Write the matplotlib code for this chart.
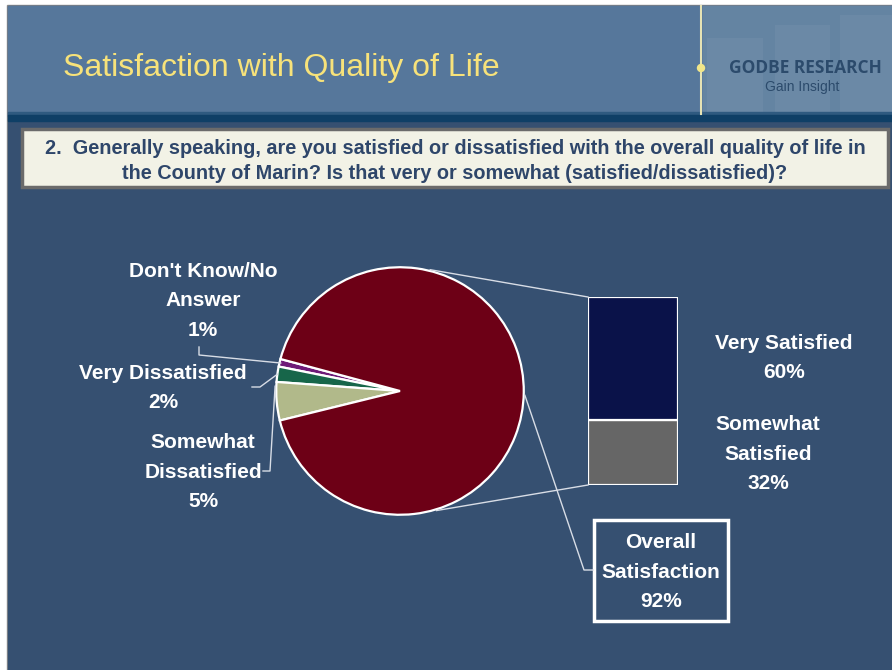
import matplotlib
matplotlib.use("Agg")
import matplotlib.pyplot as plt
from matplotlib.patches import Rectangle, Circle
import numpy as np

# ---- data ----
pie_labels = ["Don't Know/No\nAnswer", "Very Dissatisfied", "Somewhat\nDissatisfied", "Satisfied"]
pie_values = [1, 2, 5, 92]
pie_colors = ["#6e1a78", "#17664a", "#b1b98a", "#6d0016"]

bar_labels = ["Somewhat\nSatisfied", "Very Satisfied"]
bar_values = [32, 60]
bar_colors = ["#666666", "#0a1249"]
overall_label = "Overall\nSatisfaction"
overall_value = 92

title = "Satisfaction with Quality of Life"
question = ("2.  Generally speaking, are you satisfied or dissatisfied with the overall quality of life in\n"
            "the County of Marin? Is that very or somewhat (satisfied/dissatisfied)?")

W, H = 892, 670
fig = plt.figure(figsize=(W / 100, H / 100), dpi=100)
sans = "Liberation Sans"

# background axes
bg = fig.add_axes([0, 0, 1, 1], zorder=0)
bg.set_xlim(0, W); bg.set_ylim(H, 0); bg.axis("off")
bg.add_patch(Rectangle((0, 0), W, H, color="white"))
bg.add_patch(Rectangle((7, 5), W, H, color="#8a8a8a"))
bg.add_patch(Rectangle((8, 6), W, H, color="#365071"))
bg.add_patch(Rectangle((8, 6), W, 109, color="#56779b"))
bg.add_patch(Rectangle((703, 6), W, 109, color="#6484a2"))
for x0, y0, w0 in [(707, 38, 56), (775, 25, 55), (840, 15, 52)]:
    bg.add_patch(Rectangle((x0, y0), w0, 115 - y0, color="#7491ad", alpha=0.45, lw=0))
bg.add_patch(Rectangle((8, 112), W, 4, color="#2f5a80"))
bg.add_patch(Rectangle((8, 115), W, 6, color="#0f3f66"))
bg.plot([701, 701], [6, 114], color="#e6e3b4", lw=1.5)
bg.add_patch(Circle((701, 68), 3.5, color="#f1e689", zorder=5))
bg.add_patch(Rectangle((22, 129), 866, 58, facecolor="#f2f2e6", edgecolor="#6b6b6b", lw=2.5))

bg.text(63, 68, title, color="#f7e27a", fontsize=23, family=sans, va="center", ha="left")
bg.text(805, 68, "GODBE RESEARCH", color="#2c4b6c", fontsize=12.5, fontweight="bold",
        family="Open Sans", va="center", ha="center")
bg.text(802, 87, "Gain Insight", color="#2c4b6c", fontsize=10, family=sans, va="center", ha="center")
bg.text(455, 161, question, color="#2e466a", fontsize=14.3, fontweight="bold", family=sans,
        va="center", ha="center", linespacing=1.35)

# pie axes
cx, cy, R = 400, 391, 125
pie_ax = fig.add_axes([(cx - R) / W, (H - cy - R) / H, 2 * R / W, 2 * R / H], zorder=2)
wedges, _ = pie_ax.pie(pie_values, colors=pie_colors, startangle=165, counterclock=True,
                       wedgeprops=dict(edgecolor="white", linewidth=1.6))
pie_ax.set_xlim(-1.01, 1.01); pie_ax.set_ylim(-1.01, 1.01)
pie_ax.set_aspect("auto")

# bar axes
bx0, bx1, by0, by1 = 588, 678, 297, 485
bar_ax = fig.add_axes([bx0 / W, (H - by1) / H, (bx1 - bx0) / W, (by1 - by0) / H], zorder=2)
bottom = 0
for v, c in zip(bar_values, bar_colors):
    bar_ax.bar(0, v, bottom=bottom, width=1, color=c, edgecolor="white", linewidth=1.6)
    bottom += v
bar_ax.set_xlim(-0.5, 0.5); bar_ax.set_ylim(0, sum(bar_values)); bar_ax.axis("off")

# top overlay for lines / labels
ov = fig.add_axes([0, 0, 1, 1], zorder=5)
ov.set_xlim(0, W); ov.set_ylim(H, 0); ov.axis("off"); ov.patch.set_alpha(0)

def pie_pt(angle_deg, r=1.0):
    a = np.deg2rad(angle_deg)
    return cx + R * r * np.cos(a), cy - R * r * np.sin(a)

lc = "#d8dde6"
# connectors pie -> bar
p = pie_pt(76); ov.plot([p[0], bx0], [p[1], by0], color=lc, lw=1)
p = pie_pt(-73); ov.plot([p[0], bx0], [p[1], by1], color=lc, lw=1)
# connector to overall box
p = pie_pt(-2)
ov.plot([p[0], 584, 593], [p[1], 570, 570], color=lc, lw=1)
ov.add_patch(Rectangle((594, 520), 134, 101, facecolor="none", edgecolor="white", lw=2.5))
lab_kw = dict(color="white", fontsize=15, fontweight="bold", family=sans, ha="center",
              va="center", linespacing=1.72)
ov.text(661, 572, f"{overall_label}\n{overall_value}%", **lab_kw)

# small slice leaders and labels
cum = np.cumsum([0] + pie_values)
mids = [165 + 3.6 * (cum[i] + cum[i + 1]) / 2 for i in range(len(pie_values))]
p = pie_pt(mids[0], 0.98)
ov.plot([199, 199, p[0]], [347, 355, p[1]], color=lc, lw=1)
p = pie_pt(mids[1], 0.99)
ov.plot([252, 260, p[0]], [387, 387, p[1]], color=lc, lw=1)
p = pie_pt(mids[2] - 7, 1.0)
ov.plot([263, 270, p[0]], [471, 471, p[1]], color=lc, lw=1)

ov.text(203, 301, f"{pie_labels[0]}\n{pie_values[0]}%", **lab_kw)
ov.text(163, 388, f"{pie_labels[1]}\n{pie_values[1]}%", **lab_kw)
ov.text(203, 472, f"{pie_labels[2]}\n{pie_values[2]}%", **lab_kw)

ov.text(784, 358, f"{bar_labels[1]}\n{bar_values[1]}%", **lab_kw)
ov.text(768, 454, f"{bar_labels[0]}\n{bar_values[0]}%", **lab_kw)

fig.savefig("out.png", dpi=100)
